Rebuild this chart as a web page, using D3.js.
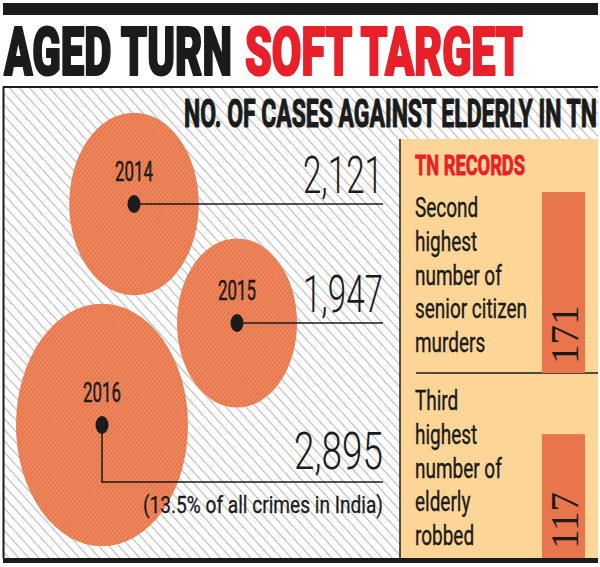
<!DOCTYPE html>
<html>
<head>
<meta charset="utf-8">
<script src="https://cdn.jsdelivr.net/npm/d3@7"></script>
<style>
  html, body { margin: 0; padding: 0; background: #fff; }
  svg { display: block; }
  text { font-family: Roboto, "Liberation Sans", "DejaVu Sans", sans-serif; }
</style>
</head>
<body>
<svg id="chart" width="600" height="567"></svg>
<script>
// ---- data ----
const titleParts = ["AGED TURN", "SOFT TARGET"];
const subtitle = "NO. OF CASES AGAINST ELDERLY IN TN";
const years = ["2014", "2015", "2016"];
const cases = [2121, 1947, 2895];
const caseNote = "(13.5% of all crimes in India)";
const recordsHeading = "TN RECORDS";
const recordLines = [
  ["Second", "highest", "number of", "senior citizen", "murders"],
  ["Third", "highest", "number of", "elderly", "robbed"]
];
const recordValues = [171, 117];

// ---- setup ----
const svg = d3.select("#chart");
const ink = "#1b1b1b", red = "#e8202a", orange = "#e9774c", beige = "#fdd697";

const defs = svg.append("defs");
const hatch = defs.append("pattern").attr("id", "hatch")
  .attr("patternUnits", "userSpaceOnUse").attr("width", 7.5).attr("height", 7.5)
  .attr("patternTransform", "rotate(-42)");
hatch.append("rect").attr("width", 7.5).attr("height", 7.5).attr("fill", "#fff");
hatch.append("line").attr("x1", 0.6).attr("y1", 0).attr("x2", 0.6).attr("y2", 7.5)
  .attr("stroke", "#b9b9b9").attr("stroke-width", 1.1);

const stripe = defs.append("pattern").attr("id", "stripe")
  .attr("patternUnits", "userSpaceOnUse").attr("width", 3.2).attr("height", 3.2)
  .attr("patternTransform", "rotate(40)");
stripe.append("rect").attr("width", 3.2).attr("height", 3.2).attr("fill", orange);
stripe.append("line").attr("x1", 0.5).attr("y1", 0).attr("x2", 0.5).attr("y2", 3.2)
  .attr("stroke", "#f0956e").attr("stroke-width", 0.9);

// helper: place text in a group and squeeze horizontally to a target width
function fitText(parent, str, x, y, opts) {
  const g = parent.append("g").attr("transform", `translate(${x},${y})`);
  const t = g.append("text").text(str)
    .attr("text-anchor", opts.anchor || "start")
    .attr("font-size", opts.size)
    .attr("font-weight", opts.weight || 400)
    .attr("fill", opts.fill || ink);
  if (opts.stroke) {
    t.attr("stroke", opts.fill || ink).attr("stroke-width", opts.stroke).attr("stroke-linejoin", "round");
  }
  if (opts.family) t.style("font-family", opts.family);
  const len = t.node().getComputedTextLength();
  const sx = opts.scale != null ? opts.scale : opts.width / len;
  t.attr("transform", `scale(${sx},1)`);
  return sx;
}

// ---- header ----
svg.append("rect").attr("x", 3).attr("y", 3).attr("width", 595).attr("height", 12).attr("fill", ink);
fitText(svg, titleParts[0], 4, 75, { size: 66, weight: 900, width: 228, fill: ink, stroke: 2.2 });
fitText(svg, titleParts[1], 245, 75, { size: 66, weight: 900, width: 278, fill: red, stroke: 2.2 });

// ---- panel ----
const panelTop = 87, panelBottom = 558;
svg.append("rect").attr("x", 3).attr("y", panelTop).attr("width", 595)
  .attr("height", panelBottom - panelTop).attr("fill", "url(#hatch)");
svg.append("line").attr("x1", 3).attr("x2", 598).attr("y1", panelTop).attr("y2", panelTop)
  .attr("stroke", ink).attr("stroke-width", 2);
svg.append("line").attr("x1", 3.5).attr("x2", 3.5).attr("y1", panelTop).attr("y2", panelBottom)
  .attr("stroke", ink).attr("stroke-width", 2);

fitText(svg, subtitle, 597, 127, { size: 39, weight: 700, width: 413, anchor: "end", stroke: 1.2 });

// ---- bubbles ----
const cx = d3.scaleOrdinal().domain(years).range([134, 237, 102]);
const cy = d3.scaleOrdinal().domain(years).range([204, 323, 425]);
const leaderY = d3.scaleOrdinal().domain(years).range([204, 323, 482]);
const rx = d3.scaleLinear().domain([1947, 2895]).range([60, 86]);
const stretch = 1.41;
const labelRight = 383;
const data = years.map((y, i) => ({ year: y, value: cases[i] }));

svg.append("g").selectAll("ellipse").data(data).join("ellipse")
  .attr("cx", d => cx(d.year)).attr("cy", d => cy(d.year))
  .attr("rx", d => rx(d.value)).attr("ry", d => rx(d.value) * stretch)
  .attr("fill", "url(#stripe)");

// leader lines
svg.append("g").selectAll("path").data(data).join("path")
  .attr("d", d => {
    const x0 = cx(d.year), y0 = cy(d.year), ly = leaderY(d.year);
    return ly === y0 ? `M${x0},${y0}H${labelRight}` : `M${x0},${y0}V${ly}H${labelRight}`;
  })
  .attr("fill", "none").attr("stroke", ink).attr("stroke-width", 1.5);

// dots
svg.append("g").selectAll("ellipse").data(data).join("ellipse")
  .attr("cx", d => cx(d.year)).attr("cy", d => cy(d.year))
  .attr("rx", 6.5).attr("ry", 9).attr("fill", ink);

// year labels
const yearG = svg.append("g");
data.forEach(d => {
  fitText(yearG, d.year, cx(d.year), cy(d.year) - 23, { size: 27, weight: 400, width: 38, anchor: "middle", stroke: 0.5 });
});

// values
const fmt = d3.format(",");
const valG = svg.append("g");
const maxD = data.reduce((a, b) => (b.value > a.value ? b : a));
const valScale = fitText(valG, fmt(maxD.value), labelRight, leaderY(maxD.year) - 13, { size: 52, weight: 300, width: 89, anchor: "end" });
data.filter(d => d !== maxD).forEach(d => {
  fitText(valG, fmt(d.value), labelRight, leaderY(d.year) - 11, { size: 52, weight: 300, scale: valScale * 0.9, anchor: "end" });
});
fitText(svg, caseNote, labelRight, 513, { size: 24, weight: 400, width: 240, anchor: "end", stroke: 0.3 });

// ---- records box ----
const boxX = 400, boxTop = 139;
svg.append("rect").attr("x", boxX).attr("y", boxTop).attr("width", 598 - boxX)
  .attr("height", panelBottom - boxTop).attr("fill", beige);
svg.append("line").attr("x1", boxX).attr("x2", boxX).attr("y1", boxTop).attr("y2", panelBottom)
  .attr("stroke", ink).attr("stroke-width", 1.5);

fitText(svg, recordsHeading, 415, 175, { size: 28, weight: 700, width: 110, fill: red, stroke: 0.9 });

const sectionBottom = [373, panelBottom];
const firstBaseline = [217, 410];
const lineGap = 33.8;
const barLen = d3.scaleLinear().domain([0, 171]).range([0, 181]);
const barX = 542, barW = 43;

// divider between the two records
svg.append("line").attr("x1", 416).attr("x2", 598).attr("y1", sectionBottom[0]).attr("y2", sectionBottom[0])
  .attr("stroke", ink).attr("stroke-width", 1.6);

// bars
svg.append("g").selectAll("rect").data(recordValues).join("rect")
  .attr("x", barX).attr("width", barW)
  .attr("y", (v, i) => sectionBottom[i] - barLen(v))
  .attr("height", v => barLen(v))
  .attr("fill", "#e8754b");

// record text lines
const bodyG = svg.append("g");
const probe = bodyG.append("text").text("senior citizen").attr("font-size", 28);
const bodyScale = 112 / probe.node().getComputedTextLength();
probe.remove();
recordLines.forEach((lines, i) => {
  lines.forEach((ln, j) => {
    fitText(bodyG, ln, 415, firstBaseline[i] + j * lineGap, { size: 28, weight: 400, scale: bodyScale, stroke: 0.4 });
  });
});

// rotated values
svg.append("g").selectAll("text").data(recordValues).join("text")
  .attr("transform", (v, i) => `translate(578,${sectionBottom[i] - 9}) rotate(-90)`)
  .attr("text-anchor", "start")
  .attr("font-size", 39)
  .style("font-family", "'Liberation Serif', 'DejaVu Serif', serif")
  .attr("fill", ink)
  .text(v => v);

// bottom rule
svg.append("rect").attr("x", 3).attr("y", panelBottom).attr("width", 595).attr("height", 5).attr("fill", ink);
</script>
</body>
</html>
